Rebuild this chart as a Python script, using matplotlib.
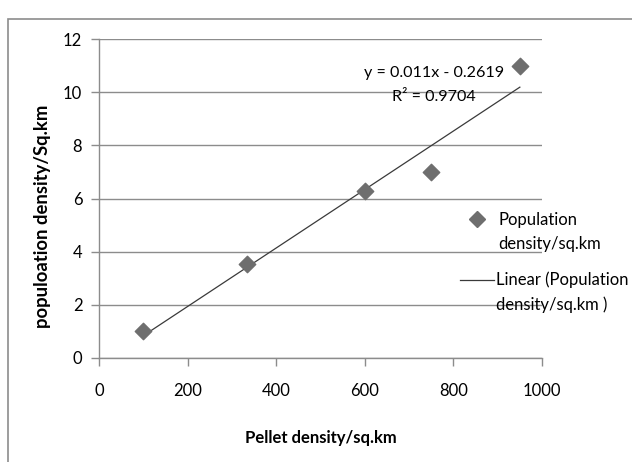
import matplotlib
matplotlib.use("Agg")
import matplotlib.pyplot as plt
import numpy as np
from matplotlib.lines import Line2D
from matplotlib.patches import Rectangle

plt.rcParams['font.family'] = ['Lato', 'DejaVu Sans']

pellet_density = [100, 335, 600, 750, 950]
population_density = [1, 3.55, 6.3, 7, 11]
slope = 0.011
intercept = -0.2619
r_squared = 0.9704
x_ticks = [0, 200, 400, 600, 800, 1000]
y_ticks = [0, 2, 4, 6, 8, 10, 12]

FS = 12
LFS = 12
EFS = 11.6

fig = plt.figure(figsize=(6.32, 4.62), dpi=100)
fig.patch.set_facecolor('white')
# outer chart frame
fig.add_artist(Rectangle((8/632, -0.05), 1.0, 1 - 19/462 + 0.05, transform=fig.transFigure,
                         fill=False, edgecolor='#8c8c8c', linewidth=1.2))

ax = fig.add_axes([99/632, 1 - 358/462, 443/632, 319/462])
ax.set_xlim(0, 1000)
ax.set_ylim(0, 12)
ax.set_xticks(x_ticks)
ax.set_yticks(y_ticks)
ax.yaxis.grid(True, color='#8c8c8c', linewidth=1)
ax.set_axisbelow(True)
for s in ['top', 'right']:
    ax.spines[s].set_visible(False)
for s in ['left', 'bottom']:
    ax.spines[s].set_color('#8c8c8c')
    ax.spines[s].set_linewidth(1)
ax.tick_params(axis='both', colors='#8c8c8c', length=6, width=1, labelcolor='black', labelsize=FS)
ax.tick_params(axis='x', pad=12)
ax.tick_params(axis='y', pad=6)

ax.scatter(pellet_density, population_density, marker='D', s=70, color='#6e6e6e',
           zorder=3, clip_on=False)
xl = np.array([min(pellet_density), max(pellet_density)])
ax.plot(xl, slope * xl + intercept, color='#3a3a3a', linewidth=0.9, zorder=2)

ax.text(0.757, (358 - 73) / 319, f"y = {slope}x - {abs(intercept)}", transform=ax.transAxes,
        ha='center', va='center', fontsize=EFS)
ax.text(0.757, (358 - 97) / 319, f"R² = {r_squared}", transform=ax.transAxes,
        ha='center', va='center', fontsize=EFS)

ax.set_xlabel("Pellet density/sq.km", fontsize=12, fontweight='bold', labelpad=22)
fig.text(43/632, 1 - 216/462, "populoation density/Sq.km", fontsize=13.3,
         fontweight='bold', rotation=90, ha='center', va='center')

# legend
fig.add_artist(Line2D([477/632], [1 - 219/462], marker='D', markersize=8, color='#6e6e6e',
                      linestyle='none', transform=fig.transFigure))
fig.text(498/632, 1 - 220/462, "Population", fontsize=LFS, va='center')
fig.text(498/632, 1 - 244/462, "density/sq.km", fontsize=LFS, va='center')
fig.add_artist(Line2D([460/632, 494/632], [1 - 280/462, 1 - 280/462], color='#3a3a3a',
                      linewidth=0.9, transform=fig.transFigure))
fig.text(496/632, 1 - 280/462, "Linear (Population", fontsize=LFS, va='center')
fig.text(496/632, 1 - 305/462, "density/sq.km )", fontsize=LFS, va='center')

fig.savefig("out.png", dpi=100)
